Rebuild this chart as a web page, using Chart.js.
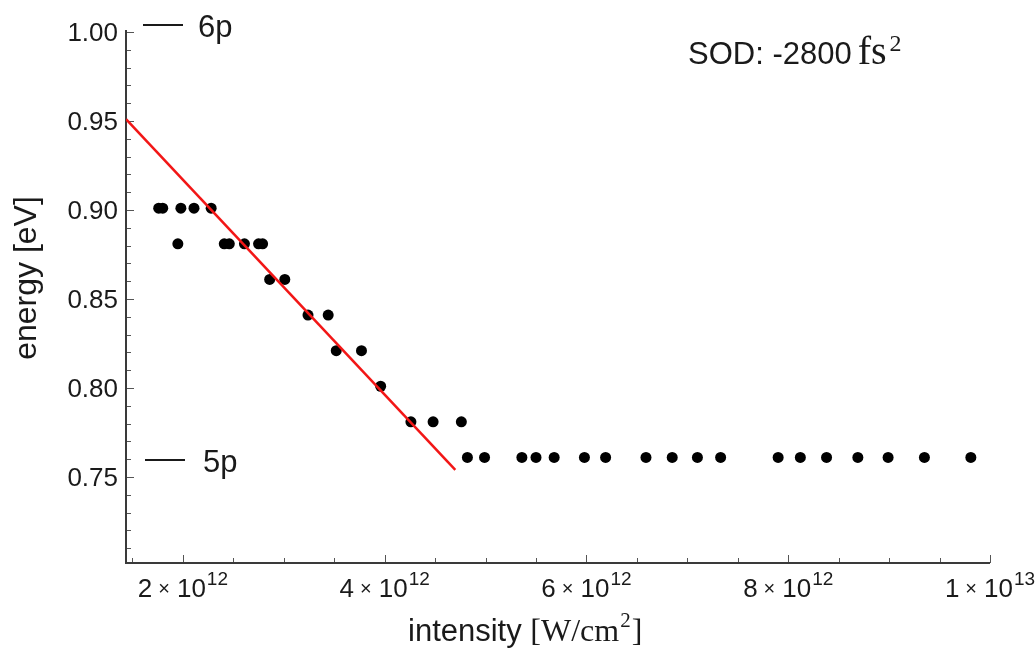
<!DOCTYPE html>
<html>
<head>
<meta charset="utf-8">
<script src="https://cdn.jsdelivr.net/npm/chart.js@4.4.1/dist/chart.umd.min.js"></script>
<style>
  html, body { margin: 0; padding: 0; background: #fff; }
  #wrap { width: 1036px; height: 651px; }
</style>
</head>
<body>
<div id="wrap"><canvas id="chart" width="1036" height="651"></canvas></div>
<script>
// measured peaks: intensity [W/cm^2] and energy [eV]
const intensity = [
  1.76e12, 1.80e12, 1.98e12, 2.11e12, 2.28e12,
  1.95e12, 2.41e12, 2.46e12, 2.61e12, 2.75e12, 2.79e12,
  2.86e12, 3.01e12,
  3.24e12, 3.44e12,
  3.52e12, 3.77e12,
  3.96e12,
  4.26e12, 4.48e12, 4.76e12,
  4.82e12, 4.99e12, 5.36e12, 5.50e12, 5.68e12, 5.98e12, 6.19e12, 6.59e12, 6.85e12,
  7.10e12, 7.33e12, 7.90e12, 8.12e12, 8.38e12, 8.69e12, 8.99e12, 9.35e12, 9.81e12
];
const energy = [
  0.901, 0.901, 0.901, 0.901, 0.901,
  0.881, 0.881, 0.881, 0.881, 0.881, 0.881,
  0.861, 0.861,
  0.841, 0.841,
  0.821, 0.821,
  0.801,
  0.781, 0.781, 0.781,
  0.761, 0.761, 0.761, 0.761, 0.761, 0.761, 0.761, 0.761, 0.761,
  0.761, 0.761, 0.761, 0.761, 0.761, 0.761, 0.761, 0.761, 0.761
];

// linear fit (red line) end points
const fitIntensity = [1.436e12, 4.70e12];
const fitEnergy = [0.951, 0.754];

// level markers
const levelNames = ['6p', '5p'];
const levelEnergy = [1.004, 0.7595];

// tick labels
const yTicks = [0.75, 0.80, 0.85, 0.90, 0.95, 1.00];
const yTickLabels = ['0.75', '0.80', '0.85', '0.90', '0.95', '1.00'];
const xTicks = [2e12, 4e12, 6e12, 8e12, 1e13];
const xTickMantissa = ['2', '4', '6', '8', '1'];
const xTickExponent = ['12', '12', '12', '12', '13'];

const SANS = "'Liberation Sans', Arial, sans-serif";
const SERIF = "'Liberation Serif', 'Times New Roman', serif";
const INK = '#1a1a1a';

const points = intensity.map((v, i) => ({ x: v, y: energy[i] }));
const fitLine = fitIntensity.map((v, i) => ({ x: v, y: fitEnergy[i] }));

// axes drawn Mathematica-style: ticks pointing into the frame
const axesPlugin = {
  id: 'axes',
  beforeDatasetsDraw(chart) {
    const { ctx, chartArea: a, scales: { x, y } } = chart;
    ctx.save();
    ctx.strokeStyle = '#555';
    ctx.lineWidth = 1;
    for (let k = 3; k <= 20; k++) {
      const px = Math.round(x.getPixelForValue(k * 0.5e12)) + 0.5;
      const len = k % 4 === 0 ? 8 : 5;
      ctx.beginPath(); ctx.moveTo(px, a.bottom); ctx.lineTo(px, a.bottom - len); ctx.stroke();
    }
    for (let k = 71; k <= 100; k++) {
      const py = Math.round(y.getPixelForValue(k / 100)) + 0.5;
      const len = k % 5 === 0 ? 8 : 5;
      ctx.beginPath(); ctx.moveTo(a.left, py); ctx.lineTo(a.left + len, py); ctx.stroke();
    }
    ctx.strokeStyle = '#3a3a3a';
    ctx.lineWidth = 2;
    ctx.beginPath();
    ctx.moveTo(a.left, a.top - 2);
    ctx.lineTo(a.left, a.bottom);
    ctx.lineTo(a.right, a.bottom);
    ctx.stroke();
    ctx.restore();
  },
  afterDraw(chart) {
    const { ctx, chartArea: a, scales: { x, y } } = chart;
    ctx.save();
    ctx.fillStyle = INK;
    ctx.strokeStyle = INK;

    // y tick labels
    ctx.font = '26px ' + SANS;
    ctx.textAlign = 'right';
    ctx.textBaseline = 'alphabetic';
    yTicks.forEach((v, i) => {
      ctx.fillText(yTickLabels[i], a.left - 8, y.getPixelForValue(v) + 8.5);
    });

    // x tick labels: m × 10^e
    ctx.textAlign = 'left';
    xTicks.forEach((v, i) => {
      const big = '26px ' + SANS, times = '20px ' + SANS, sup = '19px ' + SANS;
      ctx.font = big; const wm = ctx.measureText(xTickMantissa[i]).width;
      const wt = ctx.measureText('10').width;
      ctx.font = times; const wx = ctx.measureText('×').width;
      ctx.font = sup; const ws = ctx.measureText(xTickExponent[i]).width;
      const total = wm + 6 + wx + 7 + wt + 1 + ws;
      let px = x.getPixelForValue(v) - total / 2;
      const base = a.bottom + 34;
      ctx.font = big; ctx.fillText(xTickMantissa[i], px, base); px += wm + 6;
      ctx.font = times; ctx.fillText('×', px, base - 2); px += wx + 7;
      ctx.font = big; ctx.fillText('10', px, base); px += wt + 1;
      ctx.font = sup; ctx.fillText(xTickExponent[i], px, base - 12);
    });

    // x axis title
    let tx = 408;
    const tb = 641;
    ctx.font = '31px ' + SANS; ctx.fillText('intensity', tx, tb);
    tx += ctx.measureText('intensity ').width;
    ctx.font = '32px ' + SERIF; ctx.fillText('[W/cm', tx, tb);
    tx += ctx.measureText('[W/cm').width;
    ctx.font = '21px ' + SERIF; ctx.fillText('2', tx + 1, tb - 14);
    tx += ctx.measureText('2').width + 2;
    ctx.font = '32px ' + SERIF; ctx.fillText(']', tx, tb);

    // y axis title
    ctx.save();
    ctx.translate(36, 278);
    ctx.rotate(-Math.PI / 2);
    ctx.textAlign = 'center';
    ctx.font = '32px ' + SANS;
    ctx.fillText('energy [eV]', 0, 0);
    ctx.restore();

    // level markers
    ctx.lineWidth = 2;
    ctx.font = '31px ' + SANS;
    levelNames.forEach((name, i) => {
      const py = y.getPixelForValue(levelEnergy[i]);
      const x0 = a.left + 17 + i * 2;
      ctx.beginPath(); ctx.moveTo(x0, py); ctx.lineTo(x0 + 40, py); ctx.stroke();
      ctx.fillText(name, x0 + 55 + i * 3, py + 12);
    });

    // SOD annotation
    let sx = 688;
    ctx.font = '31px ' + SANS; ctx.fillText('SOD: -2800', sx, 64);
    sx += ctx.measureText('SOD: -2800').width + 6;
    ctx.font = '40px ' + SERIF; ctx.fillText('fs', sx, 64);
    sx += ctx.measureText('fs').width + 3;
    ctx.font = '24px ' + SERIF; ctx.fillText('2', sx, 51);
    ctx.restore();
  }
};

new Chart(document.getElementById('chart').getContext('2d'), {
  type: 'scatter',
  data: {
    datasets: [
      {
        label: 'data',
        data: points,
        backgroundColor: '#000',
        borderColor: '#000',
        pointRadius: 5.5,
        pointBorderWidth: 0,
        order: 2
      },
      {
        label: 'fit',
        data: fitLine,
        showLine: true,
        borderColor: '#f21616',
        borderWidth: 2.5,
        pointRadius: 0,
        fill: false,
        order: 1
      }
    ]
  },
  options: {
    responsive: false,
    animation: false,
    devicePixelRatio: 1,
    layout: { padding: { left: 126, right: 46, top: 32, bottom: 88 } },
    plugins: { legend: { display: false }, tooltip: { enabled: false } },
    scales: {
      x: { type: 'linear', min: 1.436e12, max: 1e13, display: false },
      y: { type: 'linear', min: 0.7017, max: 1.0, display: false }
    }
  },
  plugins: [axesPlugin]
});
</script>
</body>
</html>
